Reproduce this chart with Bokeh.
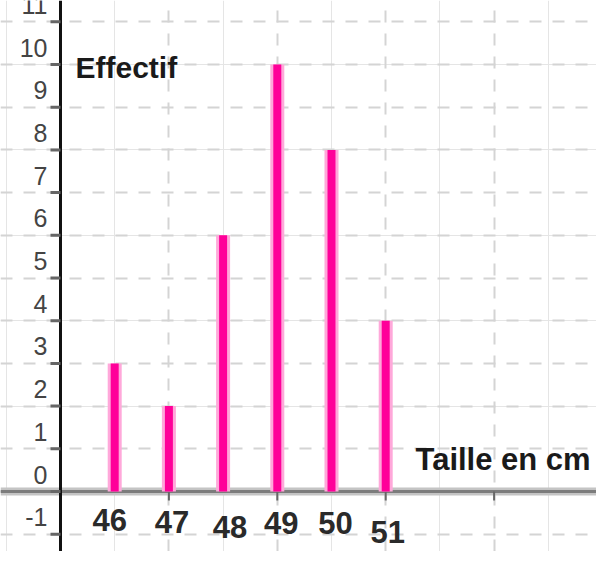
from bokeh.plotting import figure
from bokeh.models import Range1d, Span, Grid, FixedTicker
from bokeh.core.properties import value
from bokeh.embed import file_html
from bokeh.resources import INLINE

# ---- data ----
tailles = [46, 47, 48, 49, 50, 51]
effectifs = [3, 2, 6, 10, 8, 4]
y_ticks = [-1, 0, 1, 2, 3, 4, 5, 6, 7, 8, 9, 10, 11]
x_grid_ticks = [47, 49, 51, 53, 55]
x_title = "Taille en cm"
y_title = "Effectif"

# ---- layout / style ----
W, H = 596, 551
PX_X, PX_Y = 54.2, 42.7          # pixels per unit
X_ORIGIN = 45                    # where the vertical axis crosses
X0 = X_ORIGIN - 60 / PX_X
X1 = X0 + W / PX_X
Y1 = 491 / PX_Y
Y0 = Y1 - H / PX_Y
SHIFT = 11                       # px, compensates text baseline placement
label_dx_px = [-5, 3, 7, 4, 4, 2]
label_dy_px = [39, 41, 46, 42, 42, 51]
FONT = value("Liberation Sans")

p = figure(width=W, height=H, x_range=Range1d(X0, X1), y_range=Range1d(Y0, Y1),
           x_axis_location=None, y_axis_location=None, toolbar_location=None,
           output_backend="svg", min_border=0, outline_line_color=None,
           background_fill_color="white", border_fill_color="white")

# grid
p.add_layout(Grid(dimension=1, ticker=FixedTicker(ticks=y_ticks),
                  grid_line_color="#d4d4d4", grid_line_width=2, grid_line_dash="12 11"))
p.add_layout(Grid(dimension=0, ticker=FixedTicker(ticks=x_grid_ticks),
                  grid_line_color="#d4d4d4", grid_line_width=2, grid_line_dash="12 11"))

# axes lines
for col, w in (("#c4c4c4", 8), ("#7c7c7c", 3)):
    s = Span(location=0, dimension="width", line_color=col, line_width=w)
    s.level = "underlay"
    p.add_layout(s)
ya = Span(location=X_ORIGIN, dimension="height", line_color="#111111", line_width=3)
ya.level = "underlay"
p.add_layout(ya)

# tick marks
n = len(y_ticks)
p.segment(x0=[X_ORIGIN - 10 / PX_X] * n, y0=y_ticks, x1=[X_ORIGIN] * n, y1=y_ticks,
          line_color="#666666", line_width=3)
m = len(x_grid_ticks)
p.segment(x0=x_grid_ticks, y0=[0] * m, x1=x_grid_ticks, y1=[-9 / PX_Y] * m,
          line_color="#666666", line_width=2)

# bars (sticks)
k = len(tailles)
p.segment(x0=tailles, y0=[0] * k, x1=tailles, y1=effectifs,
          line_color="#ffa8da", line_width=14)
p.segment(x0=tailles, y0=[0] * k, x1=tailles, y1=effectifs,
          line_color="#ff0099", line_width=8)

# y tick labels
p.text(x=[X_ORIGIN - 13 / PX_X] * n, y=[t + (6 + SHIFT) / PX_Y for t in y_ticks],
       text=[str(t) for t in y_ticks], text_align="right", text_baseline="alphabetic",
       text_font=FONT, text_font_size="25px", text_color="#444444")

# x tick labels
p.text(x=[t + d / PX_X for t, d in zip(tailles, label_dx_px)],
       y=[(SHIFT - d) / PX_Y for d in label_dy_px],
       text=[str(t) for t in tailles], text_align="center", text_baseline="alphabetic",
       text_font=FONT, text_font_size="31px", text_font_style="bold", text_color="#2a2a2a")

# axis titles
p.text(x=[X_ORIGIN + 15 / PX_X], y=[(413 + SHIFT) / PX_Y], text=[y_title],
       text_align="left", text_baseline="alphabetic",
       text_font=FONT, text_font_size="30px", text_font_style="bold", text_color="#1a1a1a")
p.text(x=[X_ORIGIN + 355 / PX_X], y=[(21 + SHIFT) / PX_Y], text=[x_title],
       text_align="left", text_baseline="alphabetic",
       text_font=FONT, text_font_size="31px", text_font_style="bold", text_color="#1a1a1a")

open("out.html", "w").write(file_html(p, INLINE))
